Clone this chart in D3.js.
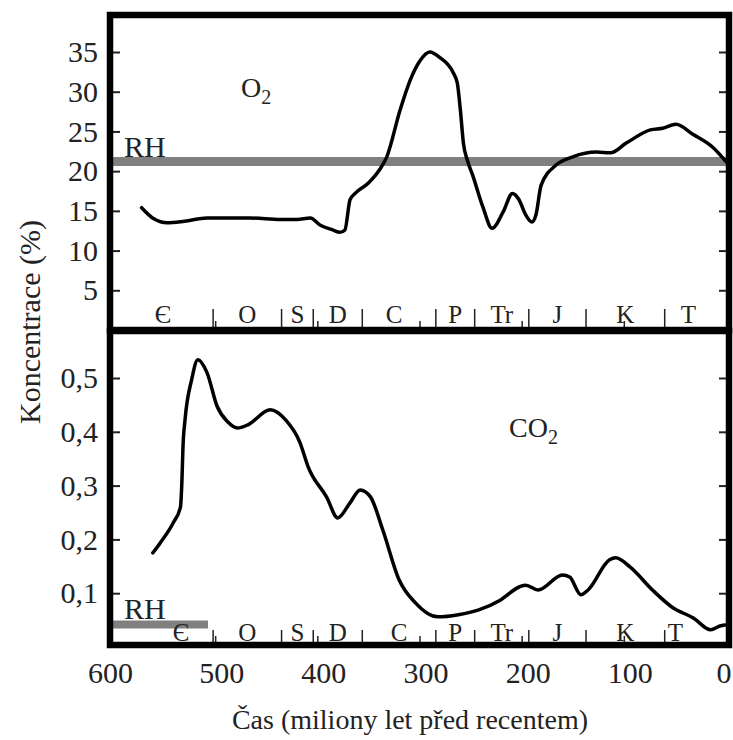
<!DOCTYPE html>
<html>
<head>
<meta charset="utf-8">
<script src="https://cdnjs.cloudflare.com/ajax/libs/d3/7.8.5/d3.min.js"></script>
<style>
  body { margin: 0; background: #fff; }
  svg text { font-family: "Liberation Serif", "Times New Roman", serif; fill: #222; }
</style>
</head>
<body>
<div id="chart"></div>
<script>
// O2 (%), age in Ma
const o2Age = [572, 560, 547, 530, 508, 466, 436, 420, 407, 397, 385, 378, 373, 368, 363, 350, 339, 332,
               319, 309, 300, 290, 280, 267, 263, 260, 257, 253, 248, 238, 229, 218, 209, 203, 196, 190,
               186, 181, 166, 150, 127, 113, 98, 74, 62, 49, 32, 13, 0];
const o2Val = [15.4, 14.0, 13.5, 13.7, 14.1, 14.1, 13.9, 13.9, 14.1, 13.2, 12.6, 12.3, 12.6, 16.4, 17.2, 18.5, 20.2, 21.8,
               27.7, 31.5, 33.8, 35.0, 34.3, 32.4, 31.1, 27.7, 23.5, 21.3, 19.5, 15.5, 12.8, 14.9, 17.2, 16.5, 14.5, 13.6,
               14.5, 18.2, 20.8, 21.8, 22.4, 22.3, 23.5, 25.2, 25.4, 25.9, 24.6, 23.0, 21.2];

// CO2 (%), age in Ma
const co2Age = [561, 554, 541, 534, 532.5, 531.5, 529.5, 523, 517, 508, 498, 488, 478, 468, 446, 431, 417, 409,
                391, 380, 368, 358, 348, 336, 320, 304, 282, 262, 242, 221, 202, 196, 184, 160, 153, 142, 135,
                114, 108, 94, 72, 52, 32, 15, 6, 1];
const co2Val = [0.175, 0.193, 0.231, 0.26, 0.311, 0.372, 0.422, 0.497, 0.534, 0.51, 0.447, 0.419, 0.407, 0.413, 0.441, 0.422, 0.38, 0.335,
                0.279, 0.24, 0.268, 0.292, 0.279, 0.218, 0.125, 0.082, 0.056, 0.06, 0.069, 0.087, 0.112, 0.115, 0.106, 0.134, 0.13, 0.097, 0.106,
                0.162, 0.166, 0.149, 0.106, 0.073, 0.054, 0.032, 0.039, 0.041];

// geological periods and their boundaries (Ma) as drawn
const periodNames = ["Є", "O", "S", "D", "C", "P", "Tr", "J", "K", "T"];
const periodBounds = [600, 502, 435, 404, 356, 284, 246, 193, 137, 60, 0];

const timeTicks = [600, 500, 400, 300, 200, 100, 0];
const o2Ticks = [5, 10, 15, 20, 25, 30, 35];
const co2Ticks = [0.1, 0.2, 0.3, 0.4, 0.5];

// present-day level (RH)
const rhO2 = 21.2;
const rhCO2 = 0.042;
const rhCO2Span = [600, 507];

document.addEventListener('DOMContentLoaded', function () {
  const w = 733;
  const h = 740;

  const svg = d3.select("#chart").append("svg")
                .attr("width", w)
                .attr("height", h);

  //Scales
  const xScale = d3.scaleLinear().domain([600, 0]).range([113, 726]);
  const yTop = d3.scaleLinear().domain([0, 35]).range([330, 52]);
  const yBot = d3.scaleLinear().domain([0, 0.5]).range([647, 378]);

  const o2 = o2Age.map((a, i) => [a, o2Val[i]]);
  const co2 = co2Age.map((a, i) => [a, co2Val[i]]);

  const fmtComma = d => d3.format(".1f")(d).replace(".", ",");

  //RH bars (drawn under the curves)
  svg.append("line")
     .attr("x1", xScale(600)).attr("x2", xScale(0))
     .attr("y1", yTop(rhO2)).attr("y2", yTop(rhO2))
     .attr("stroke", "#808080").attr("stroke-width", 9);
  svg.append("line")
     .attr("x1", xScale(rhCO2Span[0])).attr("x2", xScale(rhCO2Span[1]))
     .attr("y1", yBot(rhCO2)).attr("y2", yBot(rhCO2))
     .attr("stroke", "#808080").attr("stroke-width", 8);

  svg.append("text").attr("x", 124).attr("y", yTop(rhO2) - 5)
     .style("font-size", "30px").text("RH");
  svg.append("text").attr("x", 124).attr("y", yBot(rhCO2) - 5)
     .style("font-size", "30px").text("RH");

  //Curves
  const lineTop = d3.line().x(d => xScale(d[0])).y(d => yTop(d[1])).curve(d3.curveMonotoneX);
  const lineBot = d3.line().x(d => xScale(d[0])).y(d => yBot(d[1])).curve(d3.curveMonotoneX);

  svg.append("path").datum(o2)
     .attr("d", lineTop)
     .attr("fill", "none").attr("stroke", "#000").attr("stroke-width", 3.5)
     .attr("stroke-linejoin", "round").attr("stroke-linecap", "round");
  svg.append("path").datum(co2)
     .attr("d", lineBot)
     .attr("fill", "none").attr("stroke", "#000").attr("stroke-width", 3.5)
     .attr("stroke-linejoin", "round").attr("stroke-linecap", "round");

  //Y axes: ticks inside on both sides, labels left
  function yAxes(scale, ticks, fmt) {
    const left = svg.append("g").attr("transform", "translate(113,0)")
      .call(d3.axisLeft(scale).tickValues(ticks).tickFormat(fmt)
              .tickSizeInner(-7).tickSizeOuter(0).tickPadding(15));
    const right = svg.append("g").attr("transform", "translate(726,0)")
      .call(d3.axisRight(scale).tickValues(ticks).tickFormat("")
              .tickSizeInner(-7).tickSizeOuter(0));
    [left, right].forEach(g => {
      g.select(".domain").remove();
      g.selectAll("line").attr("stroke", "#222").attr("stroke-width", 2);
    });
    left.selectAll("text")
        .attr("font-family", null).attr("font-size", null)
        .style("font-size", "30px");
  }
  yAxes(yTop, o2Ticks, d3.format("d"));
  yAxes(yBot, co2Ticks, fmtComma);

  //Period boundaries and names in both panels
  function periods(baseY, tickLen, labelY, nudge) {
    const g = svg.append("g");
    g.selectAll("line.bound")
     .data(periodBounds.slice(1, -1))
     .enter().append("line")
     .attr("class", "bound")
     .attr("x1", d => xScale(d)).attr("x2", d => xScale(d))
     .attr("y1", baseY).attr("y2", baseY - tickLen)
     .attr("stroke", "#222").attr("stroke-width", 1.5);
    g.selectAll("text")
     .data(periodNames)
     .enter().append("text")
     .attr("x", (d, i) => xScale((periodBounds[i] + periodBounds[i + 1]) / 2) + (nudge[d] || 0))
     .attr("y", labelY)
     .attr("text-anchor", "middle")
     .style("font-size", "25px")
     .text(d => d);
    // small time ticks
    const ax = svg.append("g").attr("transform", "translate(0," + baseY + ")")
      .call(d3.axisBottom(xScale).tickValues([500, 400, 300, 200, 100]).tickFormat("")
              .tickSizeInner(-6).tickSizeOuter(0));
    ax.select(".domain").remove();
    ax.selectAll("line").attr("stroke", "#222").attr("stroke-width", 1.5);
  }
  periods(327, 18, 323, {"C": -5, "T": -7});
  periods(642, 12, 641, {"Є": 18, "T": -20});

  //Frames
  svg.append("rect").attr("x", 110).attr("y", 15).attr("width", 619).attr("height", 315)
     .attr("fill", "none").attr("stroke", "#000").attr("stroke-width", 6.5);
  svg.append("rect").attr("x", 110).attr("y", 331).attr("width", 619).attr("height", 314)
     .attr("fill", "none").attr("stroke", "#000").attr("stroke-width", 6.5);

  //X axis labels
  const xa = svg.append("g").attr("transform", "translate(0,642)")
    .call(d3.axisBottom(xScale).tickValues(timeTicks).tickSize(0).tickPadding(20));
  xa.select(".domain").remove();
  xa.selectAll("text").attr("font-family", null).attr("font-size", null)
    .style("font-size", "30px")
    .attr("text-anchor", d => d === 0 ? "end" : "middle")
    .attr("dx", d => d === 0 ? 5 : (d === 600 ? -3 : 6));

  //Gas labels
  const o2Lab = svg.append("text").attr("x", 241).attr("y", 97).style("font-size", "28px");
  o2Lab.append("tspan").text("O");
  o2Lab.append("tspan").attr("dy", 7).style("font-size", "20px").text("2");
  const co2Lab = svg.append("text").attr("x", 509).attr("y", 437).style("font-size", "28px");
  co2Lab.append("tspan").text("CO");
  co2Lab.append("tspan").attr("dy", 7).style("font-size", "20px").text("2");

  //Axis titles
  svg.append("text")
     .attr("x", 410).attr("y", 729)
     .attr("text-anchor", "middle")
     .style("font-size", "28px")
     .text("Čas (miliony let před recentem)");
  svg.append("text")
     .attr("transform", "translate(40,322) rotate(-90)")
     .attr("text-anchor", "middle")
     .style("font-size", "30px")
     .text("Koncentrace (%)");
});
</script>
</body>
</html>
